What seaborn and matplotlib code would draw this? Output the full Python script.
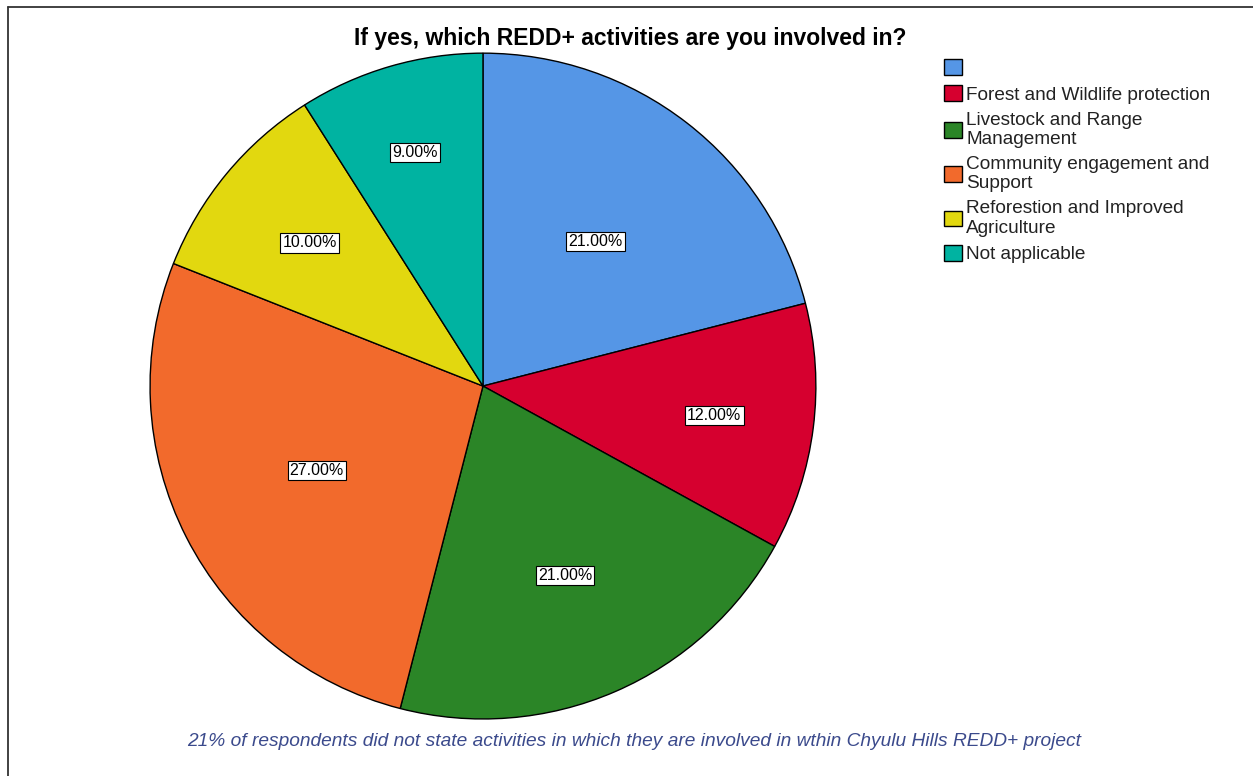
import matplotlib
matplotlib.use("Agg")
import numpy as np
import matplotlib.pyplot as plt
from matplotlib.patches import Patch
from matplotlib.lines import Line2D
import seaborn as sns

sns.set_theme(style="white")
plt.rcParams["font.family"] = ["Liberation Sans", "DejaVu Sans"]
plt.rcParams["text.color"] = "black"

categories = [
    "",
    "Forest and Wildlife protection",
    "Livestock and Range\nManagement",
    "Community engagement and\nSupport",
    "Reforestion and Improved\nAgriculture",
    "Not applicable",
]
shares = [21.0, 12.0, 21.0, 27.0, 10.0, 9.0]
colors = sns.color_palette(["#5596E6", "#D6002F", "#2B8527", "#F26A2C", "#E2D80F", "#00B3A1"])

# radial placement of each percentage label (fraction of the radius)
label_radius = [0.55, 0.70, 0.62, 0.56, 0.675, 0.73]

title = "If yes, which REDD+ activities are you involved in?"
note = "21% of respondents did not state activities in which they are involved in wthin Chyulu Hills REDD+ project"

fig = plt.figure(figsize=(12.53, 7.76), dpi=100)
ax = fig.add_axes([0.1197, 0.0735, 0.5315, 0.858])

wedges, texts, autotexts = ax.pie(
    shares,
    colors=colors,
    startangle=90,
    counterclock=False,
    radius=1.0,
    autopct=lambda p: f"{p:.2f}%",
    pctdistance=0.56,
    wedgeprops=dict(edgecolor="black", linewidth=1.0),
    textprops=dict(fontsize=11.5, color="black"),
)
for w, t, r in zip(wedges, autotexts, label_radius):
    mid = np.deg2rad(0.5 * (w.theta1 + w.theta2))
    t.set_position((r * np.cos(mid), r * np.sin(mid)))
    t.set_bbox(dict(facecolor="white", edgecolor="black", linewidth=0.8, pad=1.6))
ax.set_xlim(-1.0, 1.0)
ax.set_ylim(-1.0, 1.0)
ax.set_aspect("equal")
ax.axis("off")

handles = [Patch(facecolor=c, edgecolor="black", linewidth=1.0) for c in colors]
leg = fig.legend(
    handles, categories,
    loc="upper left", bbox_to_anchor=(0.7477, 0.934),
    frameon=False, fontsize=13.7,
    handlelength=0.9, handleheight=0.9, handletextpad=0.25,
    labelspacing=0.42, borderaxespad=0.0,
)
for txt in leg.get_texts():
    txt.set_linespacing(1.18)
    txt.set_color("#222222")

fig.text(0.503, 0.951, title, ha="center", va="center", fontsize=16.5,
         fontweight="bold", color="black")
fig.text(0.506, 0.045, note, ha="center", va="center", fontsize=13.8,
         style="italic", color="#3B4A8C")

# frame lines along top and left edges
fig.add_artist(Line2D([0.0065, 1.0], [0.991, 0.991], transform=fig.transFigure, color="#333333", linewidth=1.3))
fig.add_artist(Line2D([0.0065, 0.0065], [0.0, 0.991], transform=fig.transFigure, color="#333333", linewidth=1.3))

fig.savefig("out.png", dpi=100, facecolor="white")
